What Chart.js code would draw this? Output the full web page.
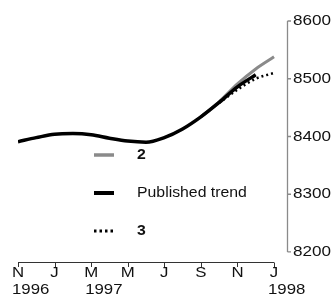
<!DOCTYPE html>
<html>
<head>
<meta charset="utf-8">
<script src="https://cdn.jsdelivr.net/npm/chart.js@4/dist/chart.umd.min.js"></script>
<style>
  html, body { margin: 0; padding: 0; background: #fff; }
</style>
</head>
<body>
<canvas id="chart" width="336" height="297"></canvas>
<script>
// months counted from Nov 1996 = 0
const months = [0,1,2,3,4,5,6,7,8,9,10,11,12,13,14];
const tickPos = [0,2,4,6,8,10,12,14];
const monthLabels = ['N','J','M','M','J','S','N','J'];
const yearLabels = ['1996','','1997','','','','','1998'];
const yTicks = [8200,8300,8400,8500,8600];

const published = [8391,8398,8404,8405,8403,8397,8392,8390,8398,8413,8434,8459,8486,8507,null];
const series2 = [null,null,null,null,null,null,null,null,null,null,8434,8460,8491,8517,8538];
const series3 = [null,null,null,null,null,null,null,null,null,null,null,8458,8481,8500,8510];

const FONT = '"Liberation Sans", Arial, sans-serif';

function pts(arr) {
	return months.map((m, i) => ({x: m, y: arr[i]})).filter(p => p.y !== null);
}

// stretched text like the original's wide face
function wideText(ctx, text, x, y, align, size, bold, stretch) {
	ctx.save();
	ctx.font = (bold ? 'bold ' : '') + size + 'px ' + FONT;
	ctx.textBaseline = 'middle';
	ctx.textAlign = 'left';
	const w = ctx.measureText(text).width * stretch;
	let left = x;
	if (align === 'center') left = x - w / 2;
	if (align === 'right') left = x - w;
	ctx.translate(left, y);
	ctx.scale(stretch, 1);
	ctx.fillText(text, 0, 0);
	ctx.restore();
}

const axesAndLegend = {
	id: 'axesAndLegend',
	afterDraw(chart) {
		const ctx = chart.ctx;
		const xs = chart.scales.x, ys = chart.scales.y;
		const area = chart.chartArea;
		ctx.save();

		// y axis (right), stops at 8200
		const ax = Math.round(area.right) + 0.5;
		ctx.strokeStyle = '#8a8a8a';
		ctx.lineWidth = 1.3;
		ctx.beginPath();
		ctx.moveTo(ax, ys.getPixelForValue(8600));
		ctx.lineTo(ax, ys.getPixelForValue(8200));
		yTicks.forEach(v => {
			const py = ys.getPixelForValue(v);
			ctx.moveTo(ax, py);
			ctx.lineTo(ax + 3.5, py);
		});
		ctx.stroke();
		ctx.fillStyle = '#111';
		yTicks.forEach(v => wideText(ctx, String(v), ax + 5.5, ys.getPixelForValue(v), 'left', 15, false, 1.14));

		// x axis, stops at Jan 1998
		const by = Math.round(area.bottom) + 0.5;
		ctx.strokeStyle = '#333';
		ctx.lineWidth = 1;
		ctx.beginPath();
		ctx.moveTo(xs.getPixelForValue(0), by);
		ctx.lineTo(xs.getPixelForValue(14), by);
		tickPos.forEach(v => {
			const px = Math.round(xs.getPixelForValue(v)) + 0.5;
			ctx.moveTo(px, by);
			ctx.lineTo(px, by + 4.5);
		});
		ctx.stroke();
		tickPos.forEach((v, i) => {
			const px = xs.getPixelForValue(v);
			wideText(ctx, monthLabels[i], px, 273, 'center', 15, false, 1.12);
			if (yearLabels[i]) wideText(ctx, yearLabels[i], px - 6, 290, 'left', 15, false, 1.12);
		});

		// legend
		const rows = [
			{y: 155, color: '#8a8a8a', dash: [], w: 3.5, text: '2', bold: true},
			{y: 193, color: '#000', dash: [], w: 4, text: 'Published trend', bold: false},
			{y: 231, color: '#000', dash: [2.5, 3], w: 3, text: '3', bold: true}
		];
		rows.forEach(r => {
			ctx.strokeStyle = r.color;
			ctx.lineWidth = r.w;
			ctx.setLineDash(r.dash);
			ctx.beginPath();
			ctx.moveTo(94, r.y);
			ctx.lineTo(114, r.y);
			ctx.stroke();
			ctx.setLineDash([]);
			ctx.fillStyle = '#111';
			wideText(ctx, r.text, 137, r.y, 'left', 15.5, r.bold, 1.02);
		});
		ctx.restore();
	}
};

const chartLoc = document.getElementById('chart').getContext('2d');
const chart = new Chart(chartLoc, {
	type: 'line',
	data: {
		datasets: [
			{label: 'Published trend', data: pts(published), borderColor: '#000', borderWidth: 3.5, order: 0},
			{label: '3', data: pts(series3), borderColor: '#000', borderWidth: 2.5, borderDash: [2, 3], order: 1},
			{label: '2', data: pts(series2), borderColor: '#8a8a8a', borderWidth: 3, order: 2}
		]
	},
	plugins: [axesAndLegend],
	options: {
		responsive: false,
		animation: false,
		layout: {padding: {left: 18, top: 21, right: 0, bottom: 0}},
		elements: {
			point: {radius: 0},
			line: {tension: 0.4, cubicInterpolationMode: 'monotone', fill: false}
		},
		plugins: {legend: {display: false}, tooltip: {enabled: false}},
		scales: {
			x: {
				type: 'linear',
				min: 0,
				max: 14.71,
				afterFit(scale) { scale.height = 35.5; },
				border: {display: false},
				grid: {display: false},
				ticks: {display: false}
			},
			y: {
				position: 'right',
				min: 8183.5,
				max: 8600,
				afterFit(scale) { scale.width = 49; },
				border: {display: false},
				grid: {display: false},
				ticks: {display: false}
			}
		}
	}
});
</script>
</body>
</html>
